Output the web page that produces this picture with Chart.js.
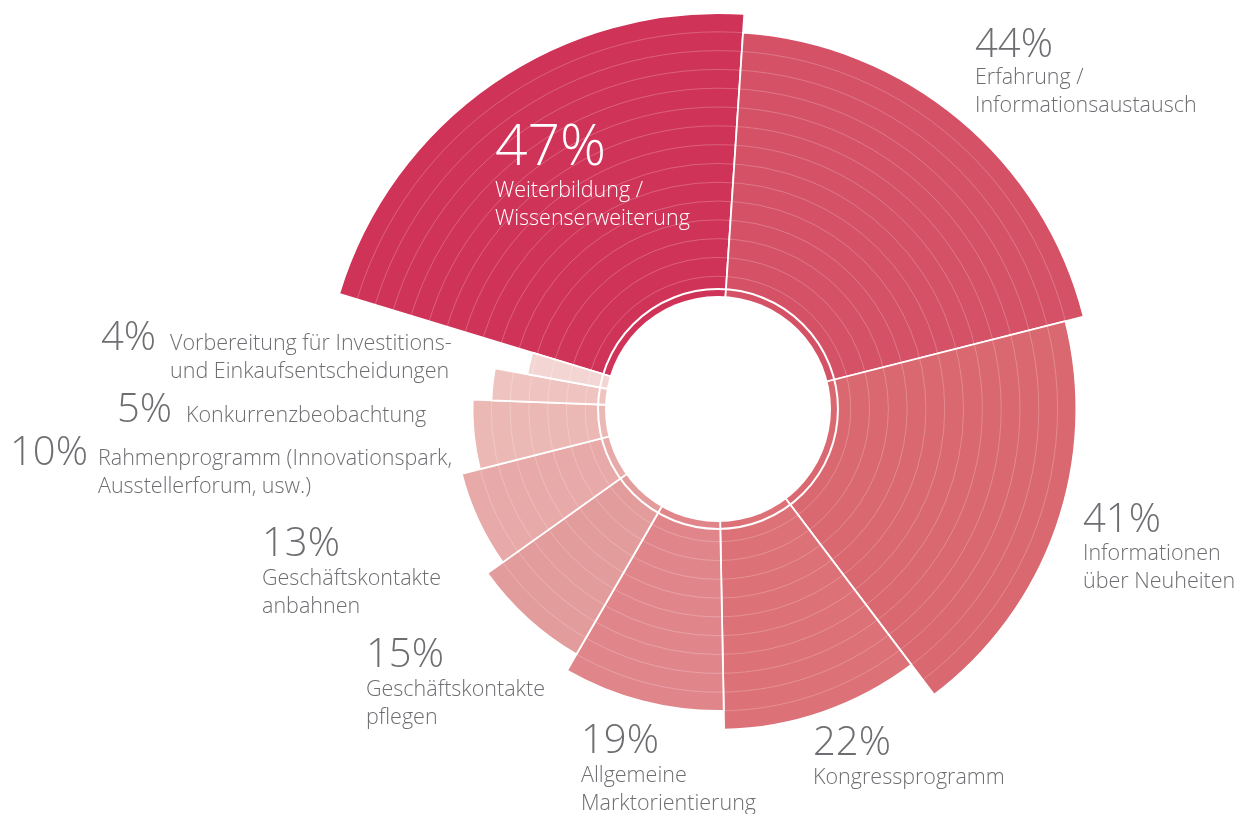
<!DOCTYPE html>
<html>
<head>
<meta charset="utf-8">
<script src="https://cdn.jsdelivr.net/npm/chart.js@4/dist/chart.umd.min.js"></script>
<style>
  html, body { margin: 0; padding: 0; background: #fff; }
</style>
</head>
<body>
<canvas id="chart" width="1244" height="814"></canvas>
<script>
// values from the picture
const categories = [
  ['Weiterbildung /', 'Wissenserweiterung'],
  ['Erfahrung /', 'Informationsaustausch'],
  ['Informationen', 'über Neuheiten'],
  ['Kongressprogramm'],
  ['Allgemeine', 'Marktorientierung'],
  ['Geschäftskontakte', 'pflegen'],
  ['Geschäftskontakte', 'anbahnen'],
  ['Rahmenprogramm (Innovationspark,', 'Ausstellerforum, usw.)'],
  ['Konkurrenzbeobachtung'],
  ['Vorbereitung für Investitions-', 'und Einkaufsentscheidungen']
];
const percents = [47, 44, 41, 22, 19, 15, 13, 10, 5, 4];
// how far each slice reaches out, counted in the ring bands of the picture
const bands = [14, 13, 12, 10, 9, 8, 7, 6, 5, 3.25];
const colors = ['#d03358', '#d55166', '#da6870', '#dc7177', '#e0868b', '#e39c9c',
                '#e8aaa8', '#ebb8b4', '#efc4c0', '#f3d6d3'];

const total = percents.reduce((a, b) => a + b, 0);
const holeValue = -1.05;   // white centre
const ringValue = -0.68;   // solid white ring around the centre
const scaleMin = -7.06;
const scaleMax = 14.48;

// label placement: percent baseline, text start
const labelPos = [
  { px: 495, py: 165, lx: 495, ly: 197, size: 57, color: '#ffffff' },
  { px: 975, py: 57, lx: 975, ly: 84 },
  { px: 1083, py: 532, lx: 1083, ly: 560 },
  { px: 813, py: 755, lx: 813, ly: 784 },
  { px: 581, py: 753, lx: 581, ly: 782 },
  { px: 366, py: 667, lx: 366, ly: 696 },
  { px: 262, py: 556, lx: 262, ly: 585 },
  { px: 10, py: 465, lx: 98, ly: 465 },
  { px: 117, py: 422, lx: 186, ly: 422 },
  { px: 101, py: 350, lx: 170, ly: 350 }
];
const textGrey = '#6e6e72';
const fontFamily = '"Open Sans", "Noto Sans", sans-serif';

const centreHole = {
  id: 'centreHole',
  afterDatasetsDraw(chart) {
    const s = chart.scales.r;
    const ctx = chart.ctx;
    ctx.save();
    ctx.fillStyle = '#ffffff';
    ctx.beginPath();
    ctx.arc(s.xCenter, s.yCenter, s.getDistanceFromCenterForValue(holeValue), 0, Math.PI * 2);
    ctx.fill();
    ctx.restore();
  }
};

const sliceLabels = {
  id: 'sliceLabels',
  afterDraw(chart) {
    const ctx = chart.ctx;
    ctx.save();
    ctx.textAlign = 'left';
    ctx.textBaseline = 'alphabetic';
    percents.forEach((p, i) => {
      const pos = labelPos[i];
      ctx.fillStyle = pos.color || textGrey;
      ctx.font = '300 ' + (pos.size || 40) + 'px ' + fontFamily;
      ctx.fillText(p + '%', pos.px, pos.py);
      ctx.font = '300 21.5px ' + fontFamily;
      categories[i].forEach((line, j) => {
        ctx.fillText(line, pos.lx, pos.ly + j * 28);
      });
    });
    ctx.restore();
  }
};

new Chart(document.getElementById('chart'), {
  type: 'polarArea',
  data: {
    labels: categories.map(c => c.join(' ')),
    datasets: [{
      data: bands,
      backgroundColor: colors,
      borderColor: '#ffffff',
      borderWidth: 1.8,
      angle: ctx => percents[ctx.dataIndex] * 360 / total
    }]
  },
  options: {
    responsive: false,
    animation: false,
    layout: { padding: { left: 192, right: 0, top: 4, bottom: 0 } },
    plugins: {
      legend: { display: false },
      tooltip: { enabled: false }
    },
    scales: {
      r: {
        min: scaleMin,
        max: scaleMax,
        startAngle: -73.1,
        ticks: { display: false },
        angleLines: { display: false },
        pointLabels: { display: false },
        afterBuildTicks: s => {
          const t = [scaleMin, ringValue];
          for (let k = 0; k <= 14; k++) t.push(k);
          s.ticks = t.map(v => ({ value: v }));
        },
        grid: {
          z: 1,
          circular: true,
          color: ctx => {
            const v = ctx.tick.value;
            if (v === scaleMin) return 'rgba(255,255,255,0)';
            return v === ringValue ? '#ffffff' : 'rgba(255,255,255,0.22)';
          },
          lineWidth: ctx => ctx.tick.value === ringValue ? 2 : 1
        }
      }
    }
  },
  plugins: [centreHole, sliceLabels]
});
</script>
</body>
</html>
